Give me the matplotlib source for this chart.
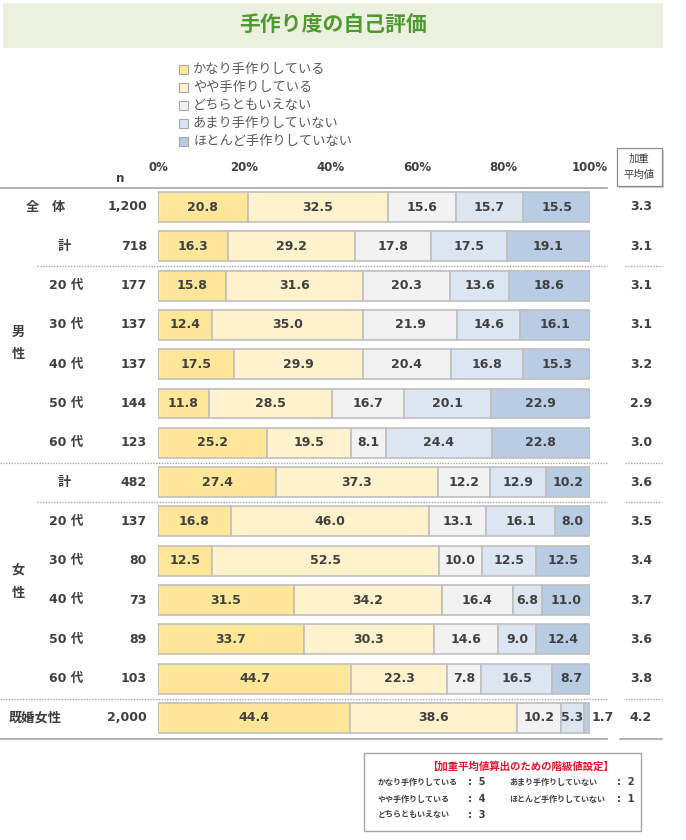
import matplotlib
matplotlib.use("Agg")
import matplotlib.pyplot as plt
from matplotlib.patches import Rectangle

plt.rcParams['font.family'] = ['Noto Sans CJK JP', 'DejaVu Sans']
NUMF = ['DejaVu Sans', 'Noto Sans CJK JP']

# --- data ---
row_labels = ['全　体', '計', '20 代', '30 代', '40 代', '50 代', '60 代',
              '計', '20 代', '30 代', '40 代', '50 代', '60 代', '既婚女性']
n_vals = [1200, 718, 177, 137, 137, 144, 123, 482, 137, 80, 73, 89, 103, 2000]

series_names = ['かなり手作りしている', 'やや手作りしている', 'どちらともいえない',
                'あまり手作りしていない', 'ほとんど手作りしていない']
kanari = [20.8, 16.3, 15.8, 12.4, 17.5, 11.8, 25.2, 27.4, 16.8, 12.5, 31.5, 33.7, 44.7, 44.4]
yaya = [32.5, 29.2, 31.6, 35.0, 29.9, 28.5, 19.5, 37.3, 46.0, 52.5, 34.2, 30.3, 22.3, 38.6]
dochira = [15.6, 17.8, 20.3, 21.9, 20.4, 16.7, 8.1, 12.2, 13.1, 10.0, 16.4, 14.6, 7.8, 10.2]
amari = [15.7, 17.5, 13.6, 14.6, 16.8, 20.1, 24.4, 12.9, 16.1, 12.5, 6.8, 9.0, 16.5, 5.3]
hotondo = [15.5, 19.1, 18.6, 16.1, 15.3, 22.9, 22.8, 10.2, 8.0, 12.5, 11.0, 12.4, 8.7, 1.7]
weighted = [3.3, 3.1, 3.1, 3.1, 3.2, 2.9, 3.0, 3.6, 3.5, 3.4, 3.7, 3.6, 3.8, 4.2]

score_labels = ['かなり手作りしている', 'やや手作りしている', 'どちらともいえない',
                'あまり手作りしていない', 'ほとんど手作りしていない']
score_vals = [5, 4, 3, 2, 1]

colors = ['#FFE699', '#FFF2CC', '#F2F2F2', '#DCE6F2', '#B8CCE4']
txt = '#404040'
W, H = 686, 840

fig = plt.figure(figsize=(W / 100, H / 100), dpi=100)

# background overlay in pixel coords
bg = fig.add_axes([0, 0, 1, 1])
bg.set_xlim(0, W)
bg.set_ylim(H, 0)
bg.axis('off')

# title band
bg.add_patch(Rectangle((3, 3), 660, 45, facecolor='#EBF1DE', edgecolor='none'))
bg.text(333, 25, '手作り度の自己評価', ha='center', va='center', fontsize=15,
        fontweight='bold', color='#4E9A2E')

# bar axes
nrows = len(row_labels)
top_c, step = 207, 39.3
ax_top = top_c - step / 2
ax_h = step * nrows
ax = fig.add_axes([158 / W, 1 - (ax_top + ax_h) / H, 432 / W, ax_h / H])
ax.set_xlim(0, 100)
ax.set_ylim(nrows - 0.5, -0.5)
ax.axis('off')

ys = list(range(nrows))
left = [0.0] * nrows
for vals, col, name in zip([kanari, yaya, dochira, amari, hotondo], colors, series_names):
    ax.barh(ys, vals, left=left, height=0.76, color=col, edgecolor='#BFBFBF',
            linewidth=1.2, label=name)
    for i, v in enumerate(vals):
        if v < 3:
            ax.text(left[i] + v + 0.2, i, f'{v:.1f}', ha='left', va='center',
                    fontsize=9, fontweight='semibold', color=txt, family=NUMF)
        else:
            ax.text(left[i] + v / 2, i, f'{v:.1f}', ha='center', va='center',
                    fontsize=9, fontweight='semibold', color=txt, family=NUMF)
        left[i] += v

# x tick labels
for p in range(0, 101, 20):
    ax.text(p, -0.5 - 0.5, f'{p}%', ha='center', va='center', fontsize=8.5,
            fontweight='semibold', color=txt, family=NUMF)

# legend
for k, (name, col) in enumerate(zip(series_names, colors)):
    y = 69 + k * 18
    bg.add_patch(Rectangle((179, y - 4.5), 9, 9, facecolor=col, edgecolor='#A6A6A6', lw=0.8))
    bg.text(193, y, name, ha='left', va='center', fontsize=9.5, color='#595959')

# row labels, n, weighted average
for i in range(nrows):
    y = top_c + step * i
    lab = row_labels[i]
    if lab == '全　体':
        bg.text(32, y, '全', ha='center', va='center', fontsize=9.5, fontweight='bold', color=txt)
        bg.text(58, y, '体', ha='center', va='center', fontsize=9.5, fontweight='bold', color=txt)
    elif lab == '計':
        bg.text(64, y, lab, ha='center', va='center', fontsize=9.5, fontweight='bold', color=txt)
    elif lab == '既婚女性':
        bg.text(35, y, lab, ha='center', va='center', fontsize=9.5, fontweight='bold', color=txt)
    else:
        bg.text(66, y, lab, ha='center', va='center', fontsize=9, fontweight='semibold',
                color=txt, family=NUMF)
    bg.text(147, y, f'{n_vals[i]:,}', ha='right', va='center', fontsize=9,
            fontweight='semibold', color=txt, family=NUMF)
    bg.text(641, y, f'{weighted[i]:.1f}', ha='center', va='center', fontsize=9,
            fontweight='semibold', color=txt, family=NUMF)

bg.text(18, 332, '男', ha='center', va='center', fontsize=9.5, fontweight='bold', color=txt)
bg.text(18, 354, '性', ha='center', va='center', fontsize=9.5, fontweight='bold', color=txt)
bg.text(18, 571, '女', ha='center', va='center', fontsize=9.5, fontweight='bold', color=txt)
bg.text(18, 593, '性', ha='center', va='center', fontsize=9.5, fontweight='bold', color=txt)

bg.text(120, 179, 'n', ha='center', va='center', fontsize=8.5, fontweight='semibold',
        color=txt, family=NUMF)

# header box
bg.add_patch(Rectangle((619, 150), 45, 38, facecolor='#D0D0D0', edgecolor='none'))
bg.add_patch(Rectangle((617, 148), 45, 38, facecolor='white', edgecolor='#8C8C8C', lw=0.9))
bg.text(639.5, 159, '加重', ha='center', va='center', fontsize=7.5, color=txt)
bg.text(639.5, 175, '平均値', ha='center', va='center', fontsize=7.5, color=txt)

# separator lines
gray = '#A6A6A6'
bg.plot([0, 607], [188, 188], color=gray, lw=1.2)
bg.plot([0, 607], [739, 739], color=gray, lw=1.2)
bg.plot([620, 662], [739, 739], color=gray, lw=1.2)
for y, x0 in [(266, 37), (463, 0), (502, 37), (699, 0)]:
    bg.plot([x0, 607], [y, y], color=gray, lw=1, linestyle=(0, (1, 1)))
    bg.plot([625, 662], [y, y], color=gray, lw=1, linestyle=(0, (1, 1)))

# note box
bg.add_patch(Rectangle((364, 753), 277, 78, facecolor='white', edgecolor='#A6A6A6', lw=1))
bg.text(521, 767, '【加重平均値算出のための階級値設定】', ha='center', va='center',
        fontsize=7.5, fontweight='bold', color='#E3162B')
pos = [(378, 468, 782), (378, 468, 799), (378, 468, 815), (509, 617, 782), (509, 617, 799)]
for (xl, xs, y), lab, sv in zip(pos, score_labels, score_vals):
    bg.text(xl, y, lab, ha='left', va='center', fontsize=5.8, fontweight='bold', color=txt)
    bg.text(xs, y, f':  {sv}', ha='left', va='center', fontsize=7, fontweight='bold',
            color=txt, family=NUMF)

fig.savefig('out.png', dpi=100)
